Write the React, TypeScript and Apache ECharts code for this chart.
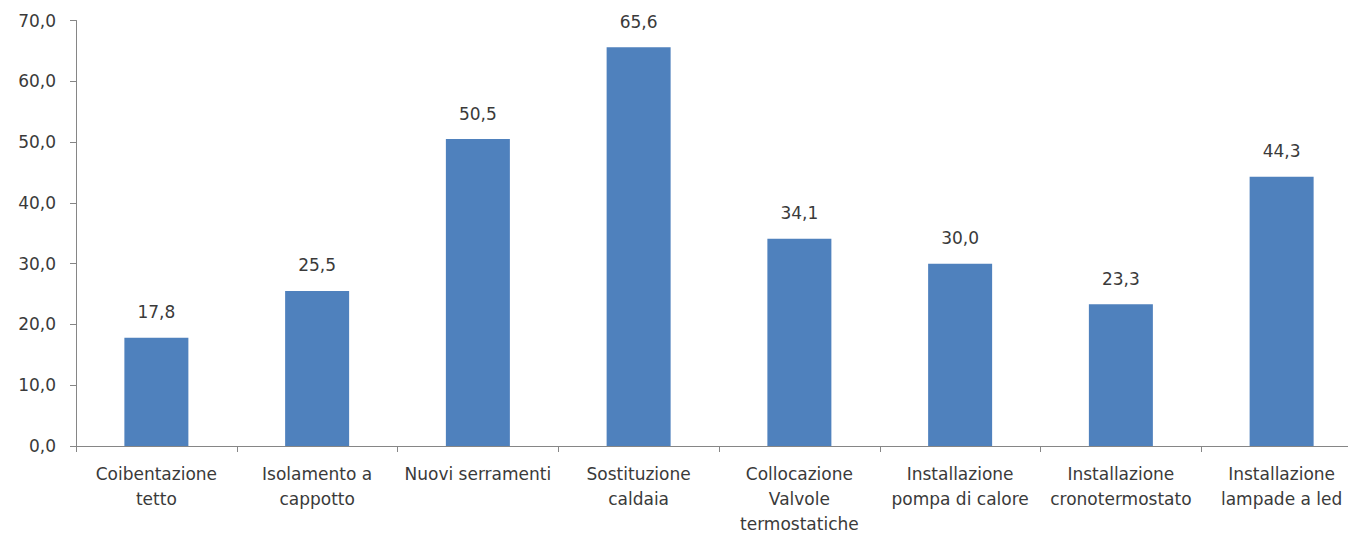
import React, { useEffect, useRef } from "react";
import * as echarts from "echarts";

const categories = [
  "Coibentazione\ntetto",
  "Isolamento a\ncappotto",
  "Nuovi serramenti",
  "Sostituzione\ncaldaia",
  "Collocazione\nValvole\ntermostatiche",
  "Installazione\npompa di calore",
  "Installazione\ncronotermostato",
  "Installazione\nlampade a led",
];
const values = [17.8, 25.5, 50.5, 65.6, 34.1, 30.0, 23.3, 44.3];
const yMin = 0;
const yMax = 70;
const yInterval = 10;

const fmt = (v: number) => v.toFixed(1).replace(".", ",");

export default function App() {
  const ref = useRef<HTMLDivElement>(null);
  useEffect(() => {
    document.body.style.margin = "0";
    const chart = echarts.init(ref.current!, undefined, { renderer: "svg" });
    const textColor = "#3a3a3a";
    const font = "DejaVu Sans";
    chart.setOption({
      animation: false,
      grid: {
        left: 76,
        top: 20.5,
        bottom: 88,
        right: -14,
        outerBoundsMode: "none",
        containLabel: false,
      },
      xAxis: {
        type: "category",
        data: categories,
        axisLine: { lineStyle: { color: "#868686", width: 1 } },
        axisTick: { show: true, length: 6, lineStyle: { color: "#868686" } },
        axisLabel: {
          color: textColor,
          fontFamily: font,
          fontSize: 17,
          lineHeight: 25,
          margin: 15,
          interval: 0,
        },
      },
      yAxis: {
        type: "value",
        min: yMin,
        max: yMax,
        interval: yInterval,
        axisLine: { show: true, lineStyle: { color: "#868686", width: 1 } },
        axisTick: { show: true, length: 6, lineStyle: { color: "#868686" } },
        splitLine: { show: false },
        axisLabel: {
          color: textColor,
          fontFamily: font,
          fontSize: 17,
          margin: 20,
          formatter: (v: number) => fmt(v),
        },
      },
      series: [
        {
          type: "bar",
          data: values,
          barWidth: 64,
          itemStyle: { color: "#4f81bd" },
          label: {
            show: true,
            position: "top",
            distance: 17,
            color: textColor,
            fontFamily: font,
            fontSize: 17,
            formatter: (p: any) => fmt(p.value),
          },
        },
      ],
    });
    return () => chart.dispose();
  }, []);
  return <div ref={ref} style={{ width: 1348, height: 534 }} />;
}
